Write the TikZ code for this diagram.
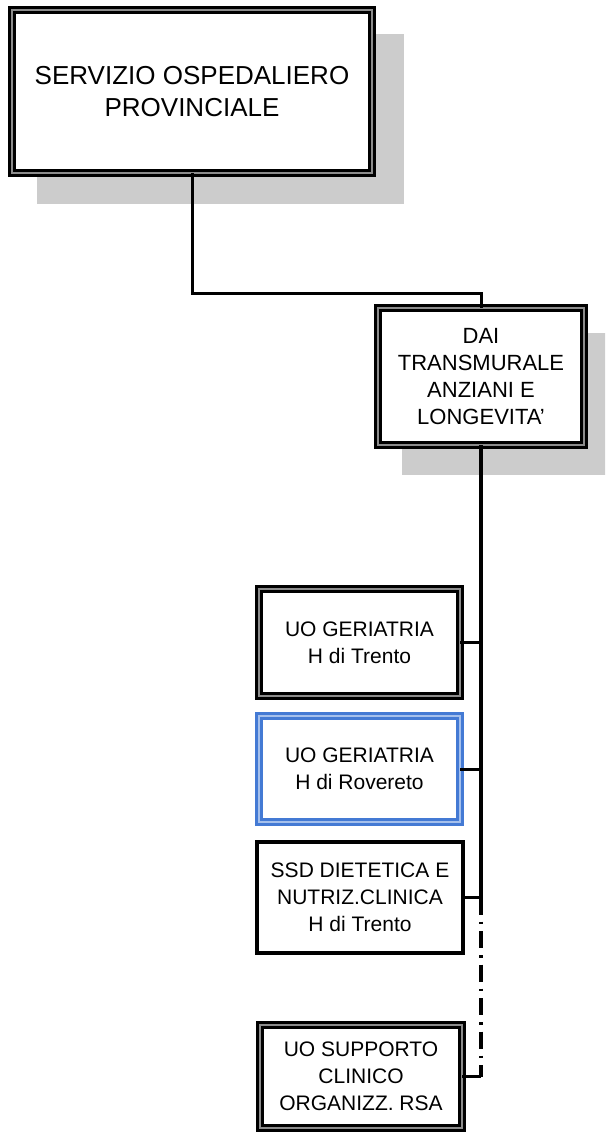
\documentclass[tikz,border=0pt]{standalone}
\usepackage{fontspec}
\setmainfont{Liberation Sans}
\definecolor{shadowgray}{RGB}{204,204,204}
\definecolor{midgray}{RGB}{140,140,140}
\definecolor{frameblue}{RGB}{68,122,212}
\definecolor{paleblue}{RGB}{165,192,236}
\begin{document}
\begin{tikzpicture}[x=1pt,y=-1pt,
  orgbox/.style={rectangle, inner sep=0pt, outer sep=0pt, align=center, fill=white,
    draw=black, line width=2.6pt, double=midgray, double distance=2.4pt},
  bluebox/.style={orgbox, draw=frameblue, double=paleblue},
  plainbox/.style={rectangle, inner sep=0pt, outer sep=0pt, align=center, fill=white,
    draw=black, line width=3.4pt},
  shade/.style={fill=shadowgray, draw=none},
  link/.style={draw=black, line width=3pt},
  trunk/.style={draw=black, line width=3.4pt},
  dashdot/.style={draw=black, line width=3.4pt, dash pattern=on 17pt off 7pt on 2.5pt off 7pt},
  big/.style={font=\fontsize{26}{32}\selectfont},
  mid/.style={font=\fontsize{22}{27}\selectfont},
  small/.style={font=\fontsize{21}{27}\selectfont}]
\clip (0,0) rectangle (605,1132);
\fill[white] (0,0) rectangle (605,1132);
% shadows
\path[shade] (37,34) rectangle (404,204);
\path[shade] (402,333) rectangle (610,475);
\coordinate (bend) at (192,293);
% boxes
\node[orgbox, big, minimum width=360pt, minimum height=163pt] (sop) at (192,91.5)
  {SERVIZIO OSPEDALIERO\\PROVINCIALE};
\node[orgbox, mid, minimum width=206pt, minimum height=137pt] (dai) at (481,376.5)
  {DAI\\TRANSMURALE\\ANZIANI E\\LONGEVITA'};
\node[orgbox, small, minimum width=201pt, minimum height=107pt] (ger1) at (359.5,642.5)
  {UO GERIATRIA\\H di Trento};
\node[bluebox, small, minimum width=201pt, minimum height=106pt] (ger2) at (359.5,769)
  {UO GERIATRIA\\H di Rovereto};
\node[plainbox, small, minimum width=206pt, minimum height=111pt] (ssd) at (360,897.5)
  {SSD DIETETICA E\\NUTRIZ.CLINICA\\H di Trento};
\node[orgbox, small, minimum width=202pt, minimum height=103pt] (sup) at (361,1076.5)
  {UO SUPPORTO\\CLINICO\\ORGANIZZ. RSA};
% connectors
\draw[link] (sop.south -| bend) -- (bend) -- (bend -| dai.north) -- (dai.north);
\coordinate (tssd) at (dai.south |- ssd.east);
\coordinate (tsup) at (dai.south |- sup.east);
\draw[trunk] (dai.south) -- (tssd);
\draw[link] (ger1.east) -- (ger1.east -| dai.south);
\draw[link] (ger2.east) -- (ger2.east -| dai.south);
\draw[link] (ssd.east) -- (tssd);
\draw[dashdot] (tssd) -- (tsup);
\draw[link] (sup.east) -- (tsup);
\end{tikzpicture}
\end{document}
